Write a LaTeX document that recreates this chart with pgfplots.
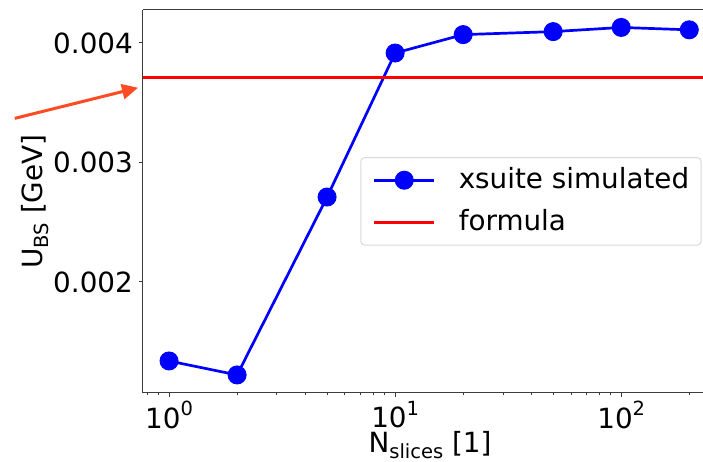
\documentclass[border=0pt]{standalone}
\usepackage{fontspec}
\setmainfont{DejaVu Sans}
\usepackage{pgfplots}
\pgfplotsset{compat=1.18}
\usetikzlibrary{arrows.meta}
\definecolor{arrowc}{RGB}{255,75,35}
\definecolor{spine}{RGB}{60,60,60}
\newcommand{\bigf}{\fontsize{27.8}{33}\selectfont}
\newcommand{\sub}[1]{\raisebox{-0.2em}{\fontsize{19.5}{22}\selectfont #1}}
\newcommand{\sups}[1]{\raisebox{0.45em}{\fontsize{19.5}{22}\selectfont #1}}
\begin{document}
\bigf
\begin{tikzpicture}
\begin{axis}[
  scale only axis, width=560pt, height=383pt,
  xmode=log, xmin=0.767, xmax=230,
  ymin=0.001071, ymax=0.004276,
  axis x line*=box, axis y line*=left,
  xtick pos=left, ytick pos=left,
  axis line style={spine, line width=1pt},
  every tick/.style={spine, line width=1pt},
  tick align=outside,
  major tick length=4pt, minor tick length=2.5pt,
  xtick={1,10,100},
  xticklabels={10\sups{0},10\sups{1},10\sups{2}},
  minor xtick={0.8,0.9,2,3,4,5,6,7,8,9,20,30,40,50,60,70,80,90,200},
  ytick={0.002,0.003,0.004},
  yticklabels={0.002,0.003,0.004},
  scaled y ticks=false,
  ticklabel style={font=\bigf},
  yticklabel style={inner sep=0pt, xshift=-6pt},
  xticklabel style={inner sep=0pt, yshift=-4pt},
  /pgf/number format/assume math mode=true,
  xlabel={N\sub{slices} [1]},
  ylabel={U\sub{BS} [GeV]},
  label style={font=\bigf},
  ylabel style={at={(axis description cs:-0.1795,0.5)}, anchor=base, inner sep=0pt},
  xlabel style={at={(axis description cs:0.5125,-0.156)}, anchor=base, inner sep=0pt},
  clip=false,
  legend cell align=left,
  legend style={at={(axis description cs:0.9977,0.616)}, anchor=north east,
    draw=black!15, rounded corners=4pt, line width=1pt,
    font=\bigf, inner xsep=12pt, inner ysep=10pt,
    nodes={inner sep=0pt}, column sep=23pt, row sep=17pt},
  legend image code/.code={\draw[mark repeat=2,mark phase=2] plot coordinates {(0pt,0pt)(30pt,0pt)(60pt,0pt)};},
]
\addplot[blue, line width=2.7pt, mark=*, mark size=9pt, mark options={solid, fill=blue, draw=blue, line width=1pt}]
  coordinates {(1,0.001339) (2,0.001222) (5,0.002711) (10,0.003916) (20,0.004070) (50,0.004095) (100,0.004130) (200,0.004110)};
\addlegendentry{xsuite simulated}
\addplot[red, line width=3pt] coordinates {(0.767,0.003707) (230,0.003707)};
\addlegendentry{formula}
\draw[arrowc, line width=3pt, -{Triangle[length=16pt,width=15pt]}]
  (axis description cs:-0.229,0.717) -- (axis description cs:-0.0089,0.797);
\end{axis}
\pgfresetboundingbox
\path[use as bounding box] ([xshift=-143pt,yshift=-69pt]current axis.south west) rectangle ([yshift=10pt]current axis.north east);
\end{tikzpicture}
\end{document}
